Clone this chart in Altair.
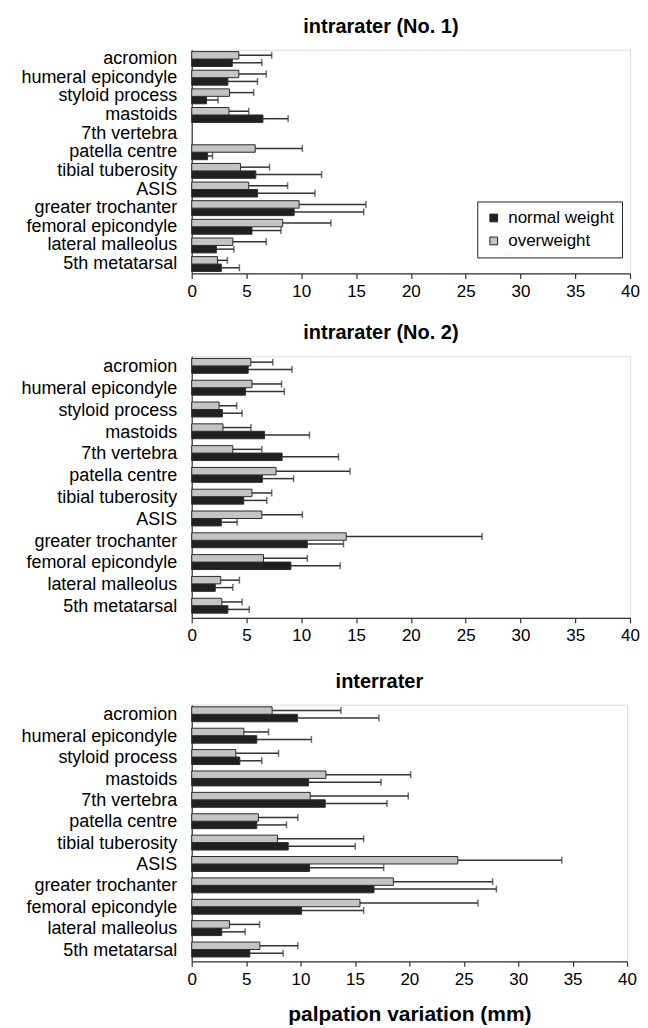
import altair as alt
import pandas as pd

sites = ["acromion", "humeral epicondyle", "styloid process", "mastoids",
         "7th vertebra", "patella centre", "tibial tuberosity", "ASIS\u00a0",
         "greater trochanter", "femoral epicondyle", "lateral malleolus",
         "5th metatarsal"]
groups = ["normal weight", "overweight"]

# intrarater (No. 1)
p1_normal = [3.7, 3.3, 1.35, 6.5, None, 1.45, 5.85, 6.0, 9.35, 5.5, 2.25, 2.7]
p1_normal_err = [6.4, 6.0, 2.4, 8.8, None, 1.9, 11.85, 11.25, 15.7, 8.15, 3.85, 4.35]
p1_over = [4.3, 4.3, 3.45, 3.4, None, 5.8, 4.45, 5.2, 9.8, 8.3, 3.75, 2.35]
p1_over_err = [7.3, 6.8, 5.65, 5.2, None, 10.1, 7.1, 8.75, 15.9, 12.7, 6.8, 3.25]

# intrarater (No. 2)
p2_normal = [5.15, 4.9, 2.8, 6.65, 8.25, 6.45, 4.75, 2.7, 10.55, 9.05, 2.15, 3.3]
p2_normal_err = [9.15, 8.45, 4.6, 10.75, 13.4, 9.3, 6.85, 4.15, 13.85, 13.55, 3.75, 5.25]
p2_over = [5.4, 5.5, 2.5, 2.85, 3.75, 7.7, 5.5, 6.4, 14.1, 6.55, 2.65, 2.75]
p2_over_err = [7.4, 8.2, 4.1, 5.4, 6.4, 14.45, 7.3, 10.1, 26.5, 10.55, 4.35, 4.6]

# interrater
p3_normal = [9.72, 5.98, 4.42, 10.74, 12.27, 5.98, 8.87, 10.83, 16.75, 10.09, 2.76, 5.34]
p3_normal_err = [17.2, 11.0, 6.44, 17.4, 17.94, 8.71, 15.03, 17.64, 28.0, 15.8, 4.91, 8.4]
p3_over = [7.39, 4.79, 4.05, 12.33, 10.89, 6.13, 7.88, 24.45, 18.53, 15.46, 3.47, 6.26]
p3_over_err = [13.71, 7.06, 7.98, 20.12, 19.9, 9.75, 15.8, 34.0, 27.65, 26.3, 6.23, 9.75]

x_ticks = [0, 5, 10, 15, 20, 25, 30, 35, 40]

FONT = "Liberation Sans"


def make_df(normal, normal_err, over, over_err):
    rows = []
    for i, s in enumerate(sites):
        if normal[i] is not None:
            rows.append(dict(site=s, group="normal weight", value=normal[i], err=normal_err[i]))
        if over[i] is not None:
            rows.append(dict(site=s, group="overweight", value=over[i], err=over_err[i]))
    return pd.DataFrame(rows)


def panel(df, title, width, height, show_xtitle=False):
    base = alt.Chart(df)
    y = alt.Y("site:N", scale=alt.Scale(domain=sites, paddingInner=0.2, paddingOuter=0.1),
              axis=alt.Axis(title=None, ticks=False, labelFontSize=18, labelPadding=15,
                            labelColor="black", domainColor="#333", domainWidth=1.2,
                            labelFont=FONT))
    yoff = alt.YOffset("group:N", sort=["overweight", "normal weight"],
                       scale=alt.Scale(domain=["overweight", "normal weight"],
                                       paddingInner=0, paddingOuter=0))
    xaxis = alt.Axis(values=x_ticks, labelFontSize=17, labelColor="black", tickSize=5,
                     tickColor="#333", domainColor="#333", domainWidth=1.2, tickWidth=1.2,
                     grid=False, labelPadding=5, labelFont=FONT, labelFlush=False,
                     title="palpation variation (mm)" if show_xtitle else None,
                     titleFontSize=21, titleFont=FONT, titleFontWeight="bold",
                     titleColor="black", titlePadding=16)
    x = alt.X("value:Q", scale=alt.Scale(domain=[0, 40], nice=False), axis=xaxis)
    bars = base.mark_bar(stroke="#2b2b2b", strokeWidth=1).encode(
        x=x, y=y, yOffset=yoff,
        color=alt.Color("group:N",
                        scale=alt.Scale(domain=groups, range=["#231f20", "#c4c4c4"]),
                        legend=alt.Legend(title=None, orient="none", legendX=286, legendY=152,
                                          direction="vertical", strokeColor="#222",
                                          fillColor="white", padding=8, labelFontSize=17,
                                          labelFont=FONT, labelColor="black",
                                          symbolType="square", symbolSize=60,
                                          symbolStrokeColor="#222", symbolStrokeWidth=1,
                                          rowPadding=5, labelOffset=6)),
    )
    rules = base.mark_rule(color="#333", strokeWidth=1.5).encode(
        x="value:Q", x2="err:Q", y=y, yOffset=yoff)
    caps = base.mark_tick(color="#333", thickness=1.5, size=7).encode(
        x="err:Q", y=y, yOffset=yoff)
    return alt.layer(rules, bars, caps).properties(
        width=width, height=height,
        title=alt.TitleParams(title, fontSize=20, font=FONT, fontWeight="bold",
                              color="black", offset=13, anchor="middle", dx=-30),
    )


c1 = panel(make_df(p1_normal, p1_normal_err, p1_over, p1_over_err), "intrarater (No. 1)", 439, 224)
c2 = panel(make_df(p2_normal, p2_normal_err, p2_over, p2_over_err), "intrarater (No. 2)", 439, 262)
c3 = panel(make_df(p3_normal, p3_normal_err, p3_over, p3_over_err), "interrater", 436, 257,
           show_xtitle=True)

chart = alt.vconcat(alt.vconcat(c1, c2, spacing=22), c3, spacing=26).properties(
    padding={"left": 12, "top": 7, "right": 0, "bottom": 0}
).configure_view(stroke=None).configure(font=FONT)

chart.save("out.html", embed_options={"renderer": "svg", "actions": False})
